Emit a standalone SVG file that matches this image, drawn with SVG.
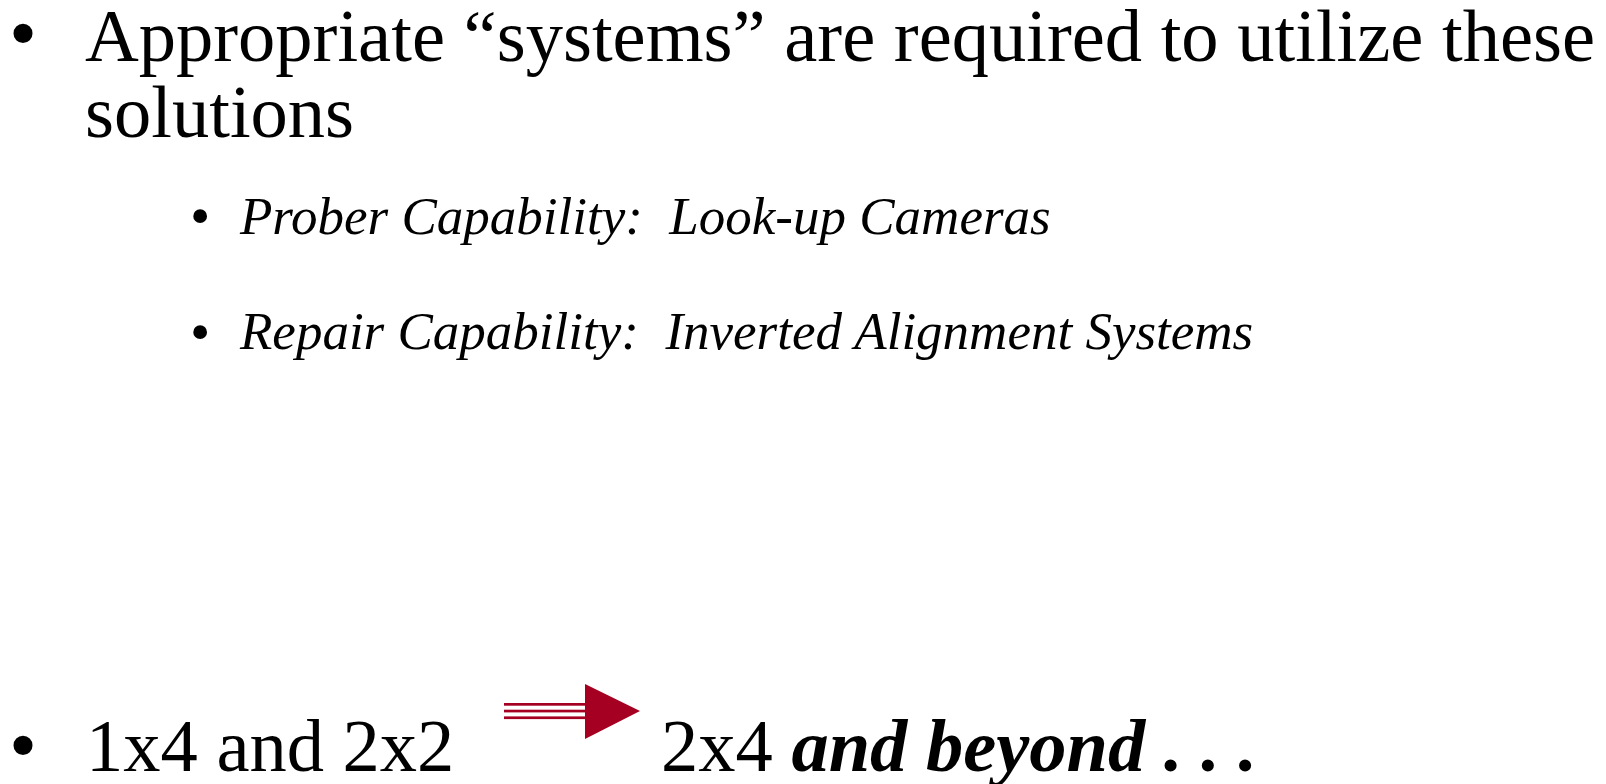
<svg xmlns="http://www.w3.org/2000/svg" width="1606" height="784" viewBox="0 0 1606 784">
<style>
.t{font-family:"Liberation Serif","Times New Roman",serif;fill:#000;white-space:pre}
.big{font-size:74.5px}
.bb{font-size:80px}
.sub{font-size:53px;font-style:italic}
.sb{font-size:58px}
.bi{font-weight:bold;font-style:italic}
.ar{fill:#A50021}
</style>
<rect width="1606" height="784" fill="#fff"/>
<g id="bullet1">
<text class="t bb" x="9" y="60">•</text>
<text class="t big" x="85" y="61">Appropriate “systems” are required to utilize these</text>
<text class="t big" x="85" y="137">solutions</text>
</g>
<g id="sub1">
<text class="t sb" x="190" y="235">•</text>
<text class="t sub" x="240" y="234">Prober Capability:  Look-up Cameras</text>
</g>
<g id="sub2">
<text class="t sb" x="190" y="351">•</text>
<text class="t sub" x="240" y="349">Repair Capability:  Inverted Alignment Systems</text>
</g>
<g id="bullet2">
<text class="t bb" x="9" y="772">•</text>
<text class="t big" x="86" y="771">1x4 and 2x2</text>
<text class="t big" x="661" y="771">2x4 <tspan class="bi">and beyond . . .</tspan></text>
</g>
<g id="connectors">
<rect class="ar" x="504" y="703" width="81" height="2.7"/>
<rect class="ar" x="504" y="709.7" width="81" height="2.7"/>
<rect class="ar" x="504" y="716.4" width="81" height="2.7"/>
<polygon class="ar" points="585,684 640,711 585,739"/>
</g>
</svg>
